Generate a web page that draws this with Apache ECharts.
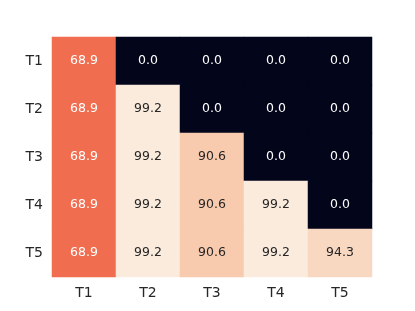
<!DOCTYPE html>
<html><head><meta charset="utf-8">
<script src="https://cdn.jsdelivr.net/npm/echarts@6/dist/echarts.min.js"></script>
<style>html,body{margin:0;padding:0;background:#fff}#c{width:415px;height:311px}</style>
</head><body><div id="c"></div>
<script>
const xCategories = ['T1','T2','T3','T4','T5'];
const yCategories = ['T1','T2','T3','T4','T5'];
// rows: T1..T5 (top to bottom), columns T1..T5
const row1 = [68.9, 0.0, 0.0, 0.0, 0.0];
const row2 = [68.9, 99.2, 0.0, 0.0, 0.0];
const row3 = [68.9, 99.2, 90.6, 0.0, 0.0];
const row4 = [68.9, 99.2, 90.6, 99.2, 0.0];
const row5 = [68.9, 99.2, 90.6, 99.2, 94.3];
const rows = [row1, row2, row3, row4, row5];

const data = [];
rows.forEach((r, yi) => r.forEach((v, xi) => {
  data.push({value: [xi, yi, v], label: {color: v > 80 ? '#262626' : '#ffffff', fontSize: 12.5, fontFamily: 'DejaVu Sans'}});
}));

const chart = echarts.init(document.getElementById('c'), null, {renderer: 'canvas'});
chart.setOption({
  animation: false,
  grid: {left: 52, top: 37, width: 320, height: 240},
  xAxis: {type: 'category', data: xCategories, position: 'bottom',
    axisLine: {show: false}, axisTick: {show: false}, splitArea: {show: false},
    axisLabel: {fontFamily: 'DejaVu Sans', fontSize: 14, color: '#262626', margin: 9}},
  yAxis: {type: 'category', data: yCategories, inverse: true,
    axisLine: {show: false}, axisTick: {show: false},
    axisLabel: {fontFamily: 'DejaVu Sans', fontSize: 14, color: '#262626', margin: 9}},
  visualMap: {show: false, type: 'continuous', min: 0, max: 99.2, dimension: 2,
    inRange: {color: ['#03051a','#35193e','#701f57','#ad1759','#e13342','#f37651','#f6b48f','#faebdd']}},
  series: [{type: 'heatmap', data: data,
    label: {show: true, fontFamily: 'DejaVu Sans', fontSize: 12.5,
      formatter: p => p.value[2].toFixed(1)},
    itemStyle: {borderWidth: 0}}]
});
</script></body></html>
